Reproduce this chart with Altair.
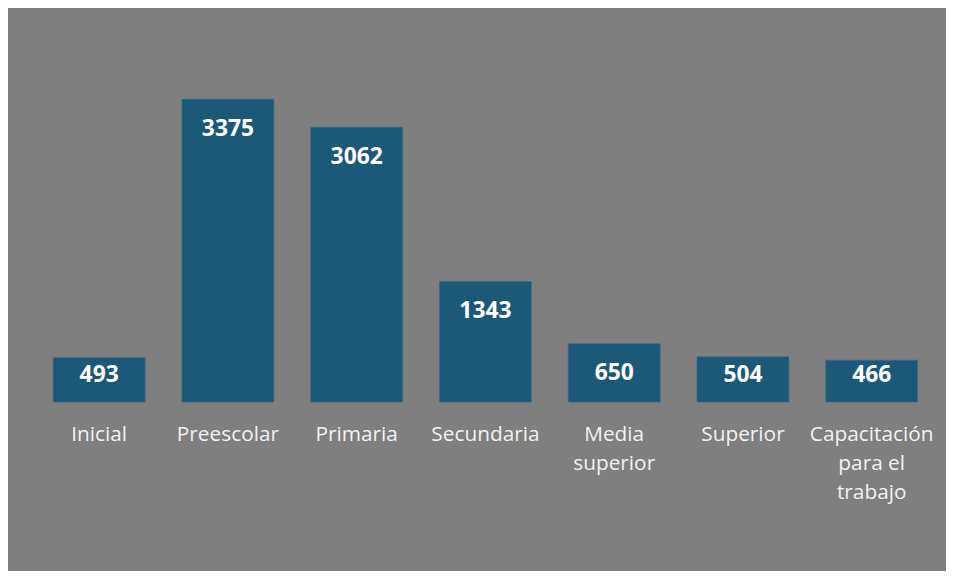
import altair as alt
import pandas as pd

categories = ["Inicial", "Preescolar", "Primaria", "Secundaria",
              "Media superior", "Superior", "Capacitación para el trabajo"]
values = [493, 3375, 3062, 1343, 650, 504, 466]

df = pd.DataFrame({"categoria": categories, "valor": values})

label_expr = ("datum.label == 'Media superior' ? ['Media', 'superior'] : "
              "datum.label == 'Capacitación para el trabajo' ? ['Capacitación', 'para el', 'trabajo'] : "
              "datum.label")

x_scale = alt.Scale(paddingInner=0.286, paddingOuter=0.143, round=False)

x = alt.X("categoria:N", sort=categories, title=None, scale=x_scale,
          axis=alt.Axis(labelAngle=0, labelExpr=label_expr, labelFont="Open Sans",
                        labelFontSize=21, labelColor="#F2F2F2", labelPadding=22,
                        labelLineHeight=29, labelBaseline="top",
                        domain=False, ticks=False, grid=False, labelLimit=300))

y_scale = alt.Scale(domain=[0, 4000])

bars = alt.Chart(df).mark_bar(color="#1C5877", stroke="#3A6D88", strokeWidth=0.8).encode(
    x=x,
    y=alt.Y("valor:Q", scale=y_scale, axis=None),
)

labels = alt.Chart(df).transform_calculate(
    pos="max(datum.valor - 332, 299)"
).mark_text(font="Open Sans", fontWeight="bold", fontSize=23, color="#FFFFFF",
            baseline="middle", align="center").encode(
    x=alt.X("categoria:N", sort=categories, scale=x_scale),
    y=alt.Y("pos:Q", scale=y_scale, axis=None),
    text=alt.Text("valor:Q"),
)

chart = (bars + labels).properties(
    width=909, height=362,
    background="#7F7F7F",
    padding={"left": 27, "top": 33, "right": 10, "bottom": 168},
    autosize=alt.AutoSizeParams(type="none"),
).configure_view(stroke=None)

chart.save("out.html", embed_options={"renderer": "svg", "actions": False})
